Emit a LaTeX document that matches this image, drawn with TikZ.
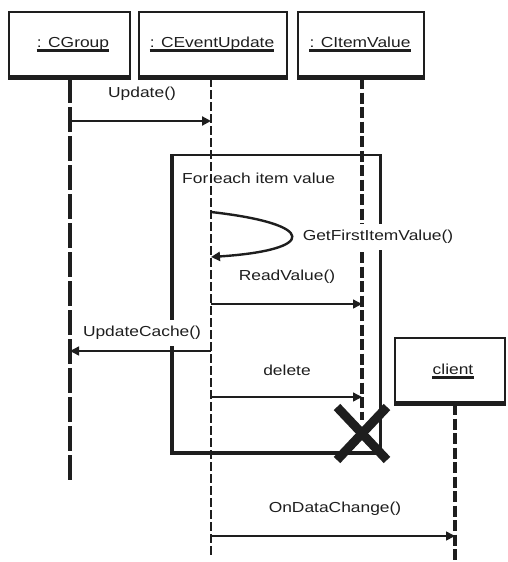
\documentclass[tikz,border=0pt]{standalone}
\usepackage{fontspec}
\setmainfont{Liberation Sans}[FakeStretch=1.2]
\usetikzlibrary{arrows.meta}
\definecolor{ink}{HTML}{1E1E1E}
\begin{document}
\begin{tikzpicture}[x=1pt,y=-1pt,
  every node/.style={text=ink},
  txt/.style={font=\fontsize{14.5}{17}\selectfont, inner sep=0pt},
  msglabel/.style={txt, fill=white, inner xsep=2pt, inner ysep=6pt},
  objbox/.style={draw=ink, line width=1.5pt, inner sep=0pt},
  objname/.style={txt, anchor=base},
  namebar/.style={draw=ink, line width=3.5pt},
  lifeline/.style={draw=ink, line width=3.2pt, dash pattern=on 11pt off 3.5pt},
  thinlife/.style={draw=ink, line width=1.3pt, dash pattern=on 9pt off 3pt},
  msg/.style={draw=ink, line width=1.4pt, -{Triangle[length=9pt,width=9pt]}}]
\useasboundingbox (0,0) rectangle (508,562);

% object boxes
\node[objbox, minimum width=121pt, minimum height=64pt] (grp) at (69.5,44) {};
\node[objbox, minimum width=148pt, minimum height=64pt] (evt) at (213,44) {};
\node[objbox, minimum width=126pt, minimum height=64pt] (itm) at (361,44) {};
\node[objbox, minimum width=110pt, minimum height=64pt] (cli) at (450,370) {};
\draw[ink, line width=3.5pt] ([yshift=-1pt]grp.south west) -- ([yshift=-1pt]grp.south east);
\draw[ink, line width=3.5pt] ([yshift=-1pt]evt.south west) -- ([yshift=-1pt]evt.south east);
\draw[ink, line width=3.5pt] ([yshift=-1pt]itm.south west) -- ([yshift=-1pt]itm.south east);
\draw[ink, line width=3.5pt] ([yshift=-1pt]cli.south west) -- ([yshift=-1pt]cli.south east);

% object names on their baselines, each with a heavy underline
\node[objname] (grpt) at (73,47) {: CGroup};
\node[objname] (evtt) at (212,47) {: CEventUpdate};
\node[objname] (itmt) at (360,47) {: CItemValue};
\node[objname] (clit) at (453,374) {client};
\draw[namebar] ([yshift=-3.5pt]grpt.base west) -- ([yshift=-3.5pt]grpt.base east);
\draw[namebar] ([yshift=-3.5pt]evtt.base west) -- ([yshift=-3.5pt]evtt.base east);
\draw[namebar] ([yshift=-3.5pt]itmt.base west) -- ([yshift=-3.5pt]itmt.base east);
\draw[namebar] ([yshift=-3.5pt]clit.base west) -- ([yshift=-3.5pt]clit.base east);

% loop fragment
\draw[ink, line width=2pt] (172,155) -- (380,155);
\draw[ink, line width=3.5pt] (172,154) -- (172,453) -- (380,453);
\draw[ink, line width=3pt] (380,154) -- (380,453);
\node[txt, anchor=west] (loopt) at (182,178) {For each item value};

% lifelines
\coordinate (gtop) at (70,78);   \coordinate (gbot) at (70,482);
\coordinate (etop) at (211,78);  \coordinate (ebot) at (211,555);
\coordinate (itop) at (362,78);  \coordinate (ibot) at (362,420);
\coordinate (ctop) at (455,404); \coordinate (cbot) at (455,562);
\draw[lifeline, dash pattern=on 25pt off 4pt] (gtop) -- (gbot);
\draw[thinlife] (etop) -- (ebot);
\draw[lifeline] (itop) -- (ibot);
\draw[lifeline] (ctop) -- (cbot);

% message labels
\node[msglabel] (l1) at (142,94) {Update()};
\node[msglabel] (l2) at (378,237) {GetFirstItemValue()};
\node[msglabel] (l3) at (287,277) {ReadValue()};
\node[msglabel] (l4) at (142,333) {UpdateCache()};
\node[msglabel] (l5) at (287,370) {delete};
\node[msglabel] (l6) at (335,509) {OnDataChange()};

% message anchors on the lifelines
\coordinate (m1a) at (70,121);  \coordinate (m1b) at (211,121);
\coordinate (m2a) at (211,212); \coordinate (m2b) at (211,257);
\coordinate (m3a) at (211,304); \coordinate (m3b) at (362,304);
\coordinate (m4a) at (211,351); \coordinate (m4b) at (70,351);
\coordinate (m5a) at (211,397); \coordinate (m5b) at (362,397);
\coordinate (m6a) at (211,536); \coordinate (m6b) at (455,536);

% messages
\draw[msg, line width=2.2pt] (m1a) -- (m1b);
\draw[msg, line width=2.4pt] (m2a) .. controls (318,224) and (318,250) .. (m2b);
\draw[msg] (m3a) -- (m3b);
\draw[msg] (m4a) -- (m4b);
\draw[msg] (m5a) -- (m5b);
\draw[msg, line width=1.6pt] (m6a) -- (m6b);

% destruction mark
\coordinate (xc) at (362,433);
\draw[ink, line width=9pt] ([shift={(-25,-26)}]xc) -- ([shift={(25,27)}]xc);
\draw[ink, line width=9pt] ([shift={(25,-26)}]xc) -- ([shift={(-25,27)}]xc);
\end{tikzpicture}
\end{document}
